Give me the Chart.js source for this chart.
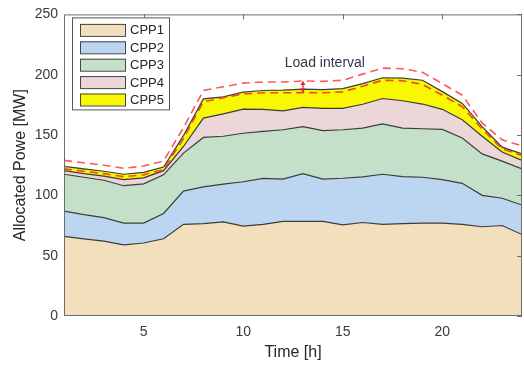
<!DOCTYPE html>
<html>
<head>
<meta charset="utf-8">
<script src="https://cdn.jsdelivr.net/npm/chart.js@4.4.1/dist/chart.umd.min.js"></script>
<style>
  html, body { margin: 0; padding: 0; background: #fff; }
</style>
</head>
<body>
<canvas id="chart" width="524" height="365"></canvas>
<script>
const hours = [1, 2, 3, 4, 5, 6, 7, 8, 9, 10, 11, 12, 13, 14, 15, 16, 17, 18, 19, 20, 21, 22, 23, 24];
const seriesNames = ['CPP1', 'CPP2', 'CPP3', 'CPP4', 'CPP5'];
const cpp1 = [66, 64, 62, 59, 60.5, 64, 76, 76.5, 78, 74.5, 76, 78.5, 78.5, 78.5, 75.5, 77.5, 76, 76.5, 77, 77, 76, 74, 75, 67.5];
const cpp2 = [21, 20, 19.5, 18, 16.5, 21, 27.5, 30.5, 31.3, 36.8, 38, 34.9, 39.5, 34.9, 38.7, 37.9, 41.5, 39.1, 38, 36, 34, 26, 22.6, 24.5];
const cpp3 = [30.5, 31, 31, 31, 32.5, 32, 31.5, 41, 39.7, 40.2, 39, 41, 39, 40.2, 40.2, 40.3, 41.8, 40.1, 40.2, 41.7, 37.5, 34.4, 30.8, 30];
const cpp4 = [3, 3, 3.5, 5, 5, 3.5, 5.5, 16, 18.5, 20, 18.3, 15.6, 16, 18.5, 17.7, 19.8, 21, 22.7, 20.5, 16.6, 15.1, 14.6, 7.5, 7];
const cpp5 = [3.5, 4, 4, 4.5, 4.5, 3, 9, 16, 14.2, 14, 15.6, 17.2, 15, 15.6, 16.4, 17.1, 17.2, 18.8, 19.7, 14.7, 13.6, 8, 4.1, 5.4];
const loadMin = [122, 120, 118, 115.5, 117, 121.5, 147, 177.5, 181, 184, 185, 185, 185.2, 185, 185.8, 190.5, 195.4, 195, 192, 183, 173.5, 155, 138.5, 133];
const loadMax = [129, 127, 125, 122.4, 124.3, 128.5, 156, 187, 190, 193, 194, 194, 194.8, 194.5, 195.4, 200.5, 205.5, 205, 202, 192.6, 183, 160, 146, 141];
const xTicks = [5, 10, 15, 20];
const yTicks = [0, 50, 100, 150, 200, 250];
const intervalHour = 13;
const intervalLabel = 'Load interval';
const labelPos = { x: 14.1, y: 210 };

const fills = ['#f2dfbb', '#bcd5f0', '#c4e0c8', '#ecd6d8', '#f8f800'];
const font = 'Liberation Sans, Arial, sans-serif';

function pts(arr) {
  return hours.map((h, i) => ({ x: h, y: arr[i] }));
}

// dashed bounds first so they are painted on top of the areas
const datasets = [
  { label: 'max', data: pts(loadMax), stack: 'hi', borderColor: '#ff5858', borderDash: [8, 5], borderWidth: 1.6, fill: false },
  { label: 'min', data: pts(loadMin), stack: 'lo', borderColor: '#f04828', borderDash: [8, 5], borderWidth: 1.6, fill: false }
];
[cpp1, cpp2, cpp3, cpp4, cpp5].forEach((arr, i) => {
  datasets.push({
    label: seriesNames[i],
    data: pts(arr),
    stack: 'gen',
    backgroundColor: fills[i],
    borderColor: '#3c3c3c',
    borderWidth: 1.2,
    fill: i === 0 ? 'origin' : i + 1
  });
});

const decor = {
  id: 'decor',
  afterDraw(chart) {
    const { ctx, chartArea: a, scales: { x, y } } = chart;
    ctx.save();
    // box + inward ticks at top and right
    ctx.strokeStyle = '#6e6e6e';
    ctx.lineWidth = 1;
    ctx.strokeRect(a.left + 0.5, a.top + 0.5, a.right - a.left - 1, a.bottom - a.top - 1);
    ctx.beginPath();
    xTicks.forEach(v => {
      const px = Math.round(x.getPixelForValue(v)) + 0.5;
      ctx.moveTo(px, a.top); ctx.lineTo(px, a.top + 5);
    });
    yTicks.forEach(v => {
      const py = Math.round(y.getPixelForValue(v)) + 0.5;
      ctx.moveTo(a.right, py); ctx.lineTo(a.right - 5, py);
    });
    ctx.stroke();

    // load interval arrow
    const ax = x.getPixelForValue(intervalHour);
    const y1 = y.getPixelForValue(loadMax[intervalHour - 1]);
    const y2 = y.getPixelForValue(loadMin[intervalHour - 1]);
    ctx.strokeStyle = '#e8202a';
    ctx.fillStyle = '#e8202a';
    ctx.lineWidth = 1.3;
    ctx.beginPath();
    ctx.moveTo(ax, y1 + 1); ctx.lineTo(ax, y2 - 1);
    ctx.stroke();
    ctx.beginPath();
    ctx.moveTo(ax, y1); ctx.lineTo(ax - 2.5, y1 + 4); ctx.lineTo(ax + 2.5, y1 + 4); ctx.closePath();
    ctx.moveTo(ax, y2); ctx.lineTo(ax - 2.5, y2 - 4); ctx.lineTo(ax + 2.5, y2 - 4); ctx.closePath();
    ctx.fill();

    ctx.fillStyle = '#2e3a4c';
    ctx.font = '14px ' + font;
    ctx.textAlign = 'center';
    ctx.textBaseline = 'middle';
    ctx.fillText(intervalLabel, x.getPixelForValue(labelPos.x), y.getPixelForValue(labelPos.y));

    // legend inside the axes
    const lx = a.left + 8, ly = a.top + 3, lw = 97, lh = 92;
    ctx.fillStyle = '#fff';
    ctx.fillRect(lx, ly, lw, lh);
    ctx.strokeStyle = '#555';
    ctx.lineWidth = 1;
    ctx.strokeRect(lx + 0.5, ly + 0.5, lw, lh);
    ctx.font = '13px ' + font;
    ctx.textAlign = 'left';
    seriesNames.forEach((name, i) => {
      const cy = ly + 12.5 + i * 17.4;
      ctx.fillStyle = fills[i];
      ctx.fillRect(lx + 8, cy - 6, 45, 12);
      ctx.strokeStyle = '#444';
      ctx.strokeRect(lx + 8.5, cy - 5.5, 45, 12);
      ctx.fillStyle = '#262626';
      ctx.fillText(name, lx + 58, cy + 1);
    });
    ctx.restore();
  }
};

new Chart(document.getElementById('chart'), {
  type: 'line',
  data: { datasets: datasets },
  plugins: [decor],
  options: {
    responsive: false,
    animation: false,
    layout: { padding: { top: 12, right: 2, left: 0, bottom: 0 } },
    elements: { point: { radius: 0 }, line: { tension: 0 } },
    plugins: { legend: { display: false }, tooltip: { enabled: false } },
    scales: {
      x: {
        type: 'linear',
        min: 1,
        max: 24,
        grid: { display: false, drawTicks: false },
        border: { display: false },
        afterBuildTicks: s => { s.ticks = xTicks.map(v => ({ value: v })); },
        afterFit: s => { s.height = 49; },
        ticks: { padding: 8, color: '#3a3a3a', font: { family: font, size: 14 } },
        title: { display: true, text: 'Time [h]', color: '#262626', font: { family: font, size: 16 }, padding: { top: 0, bottom: 3 } }
      },
      y: {
        stacked: true,
        min: 0,
        max: 250,
        grid: { display: false, drawTicks: false },
        border: { display: false },
        afterBuildTicks: s => { s.ticks = yTicks.map(v => ({ value: v })); },
        afterFit: s => { s.width = 64; },
        ticks: { padding: 6, color: '#3a3a3a', font: { family: font, size: 14 } },
        title: { display: true, text: 'Allocated Powe [MW]', color: '#262626', font: { family: font, size: 16 }, padding: { top: 11, bottom: 0 } }
      }
    }
  }
});
</script>
</body>
</html>
